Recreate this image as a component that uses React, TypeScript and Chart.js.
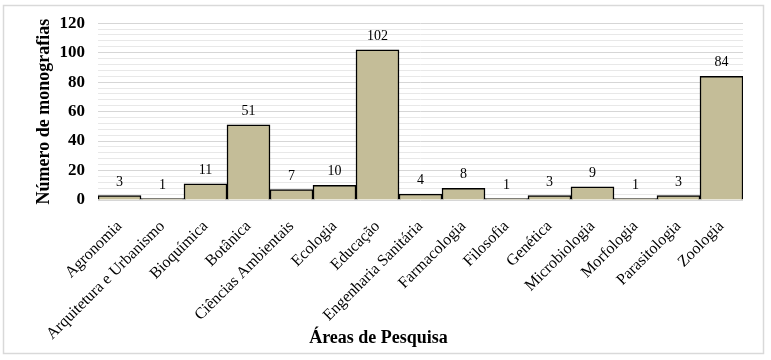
import React, { useEffect, useRef } from "react";
import { Chart, registerables } from "chart.js";

Chart.register(...registerables);

const categories = [
  "Agronomia",
  "Arquitetura e Urbanismo",
  "Bioquímica",
  "Botânica",
  "Ciências Ambientais",
  "Ecologia",
  "Educação",
  "Engenharia Sanitária",
  "Farmacologia",
  "Filosofia",
  "Genética",
  "Microbiologia",
  "Morfologia",
  "Parasitologia",
  "Zoologia",
];
const monografias = [3, 1, 11, 51, 7, 10, 102, 4, 8, 1, 3, 9, 1, 3, 84];
const yAxisTitle = "Número de monografias";
const xAxisTitle = "Áreas de Pesquisa";

const SERIF = "'Liberation Serif', 'Times New Roman', serif";

const framePlugin = {
  id: "frame",
  beforeDraw(chart: any) {
    const { ctx, width, height } = chart;
    ctx.save();
    ctx.fillStyle = "#ffffff";
    ctx.fillRect(0, 0, width, height);
    ctx.strokeStyle = "#d9d9d9";
    ctx.lineWidth = 1.5;
    ctx.strokeRect(3.5, 5.5, width - 11, height - 12);
    ctx.restore();
  },
};

const valueLabelPlugin = {
  id: "valueLabels",
  afterDatasetsDraw(chart: any) {
    const { ctx } = chart;
    const meta = chart.getDatasetMeta(0);
    const data = chart.data.datasets[0].data;
    ctx.save();
    ctx.font = `14px ${SERIF}`;
    ctx.fillStyle = "#000000";
    ctx.textAlign = "center";
    ctx.textBaseline = "alphabetic";
    meta.data.forEach((bar: any, i: number) => {
      ctx.fillText(String(data[i]), bar.x, bar.y - 10);
    });
    ctx.restore();
  },
};

const xTitlePlugin = {
  id: "xTitle",
  afterDraw(chart: any) {
    const { ctx, width } = chart;
    ctx.save();
    ctx.font = `bold 18px ${SERIF}`;
    ctx.fillStyle = "#000000";
    ctx.textAlign = "center";
    ctx.textBaseline = "middle";
    ctx.fillText(xAxisTitle, width / 2 - 7, 338);
    ctx.restore();
  },
};

export default function App() {
  const canvasRef = useRef<HTMLCanvasElement | null>(null);

  useEffect(() => {
    if (!canvasRef.current) return;
    const chart = new Chart(canvasRef.current, {
      type: "bar",
      data: {
        labels: categories,
        datasets: [
          {
            data: monografias,
            backgroundColor: "#C4BD98",
            borderColor: "#000000",
            borderWidth: 1.5,
            barPercentage: 1,
            categoryPercentage: 1,
          },
        ],
      },
      options: {
        responsive: false,
        animation: false,
        layout: { padding: { left: 30, top: 22, right: 28, bottom: 0 } },
        plugins: {
          legend: { display: false },
          tooltip: { enabled: false },
          title: { display: false },
        },
        scales: {
          x: {
            grid: { display: false, drawTicks: false },
            border: { display: false },
            ticks: {
              color: "#000000",
              font: { family: SERIF, size: 16 },
              minRotation: 45,
              maxRotation: 45,
              autoSkip: false,
              padding: 17,
            },
            afterFit(scale: any) {
              scale.height = 160;
            },
          },
          y: {
            min: 0,
            max: 120,
            border: { display: false },
            grid: {
              drawTicks: false,
              color: (ctx: any) =>
                ctx.tick && ctx.tick.value % 20 === 0 ? "#d6d6d6" : "#e8e8e8",
              lineWidth: 1,
            },
            ticks: {
              stepSize: 4,
              autoSkip: false,
              padding: 13,
              color: "#000000",
              font: { family: SERIF, size: 17, weight: "bold" },
              callback: (v: any) => (Number(v) % 20 === 0 ? String(v) : ""),
            },
            title: {
              display: true,
              text: yAxisTitle,
              color: "#000000",
              font: { family: SERIF, size: 18, weight: "bold" },
              padding: { top: 4, bottom: 4 },
            },
            afterFit(scale: any) {
              scale.width = 68;
            },
          },
        },
      },
      plugins: [framePlugin, valueLabelPlugin, xTitlePlugin],
    });
    return () => chart.destroy();
  }, []);

  return (
    <div style={{ position: "absolute", left: 0, top: 0, width: 771, height: 360, background: "#fff" }}>
      <canvas ref={canvasRef} width={771} height={360} style={{ display: "block" }} />
    </div>
  );
}
